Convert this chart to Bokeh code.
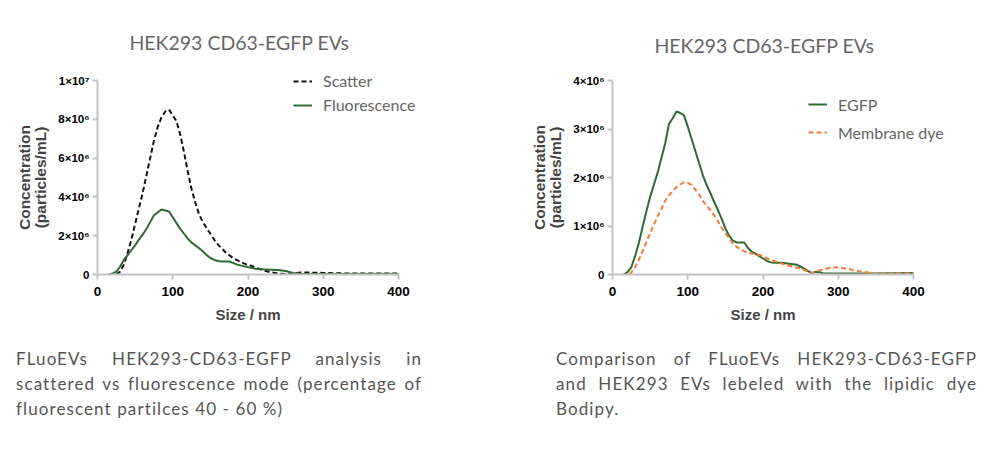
import math
from bokeh.plotting import figure
from bokeh.models import Range1d, FixedTicker, Legend, LegendItem, Label, Div, Spacer
from bokeh.layouts import column, row
from bokeh.embed import file_html
from bokeh.resources import INLINE

# ---------------- data (concentration in units of 1e6 particles/mL) ----------------
scatter_size = [25, 30, 35, 40, 45, 50, 55, 60, 65, 70, 75, 80, 85, 90, 95, 100, 105, 110, 115,
                120, 125, 130, 135, 140, 145, 150, 155, 160, 170, 180, 190, 200, 205, 210, 220,
                230, 240, 250, 260, 270, 280, 300, 320, 350, 380, 400]
scatter_conc = [0.0, 0.15, 0.5, 1.1, 1.8, 2.6, 3.4, 4.2, 5.1, 6.0, 6.9, 7.6, 8.1, 8.4, 8.5, 8.2,
                7.9, 7.2, 6.3, 5.3, 4.4, 3.7, 3.1, 2.7, 2.4, 2.1, 1.8, 1.55, 1.15, 0.85, 0.65,
                0.48, 0.45, 0.35, 0.22, 0.12, 0.05, 0.02, 0.06, 0.1, 0.1, 0.08, 0.06, 0.05,
                0.05, 0.05]

fluo_size = [15, 20, 25, 30, 35, 40, 45, 50, 55, 60, 65, 70, 75, 80, 85, 90, 95, 100, 105, 110,
             115, 120, 125, 130, 135, 140, 145, 150, 155, 160, 165, 170, 175, 180, 185, 190,
             195, 200, 210, 220, 230, 240, 250, 260, 270, 280, 300, 350, 400]
fluo_conc = [0.0, 0.05, 0.15, 0.4, 0.75, 1.0, 1.25, 1.5, 1.8, 2.05, 2.35, 2.7, 3.05, 3.2, 3.35,
             3.3, 3.25, 2.95, 2.65, 2.35, 2.1, 1.85, 1.65, 1.5, 1.35, 1.2, 1.0, 0.85, 0.75, 0.7,
             0.67, 0.67, 0.67, 0.6, 0.52, 0.47, 0.42, 0.38, 0.3, 0.27, 0.25, 0.23, 0.18, 0.08,
             0.04, 0.02, 0.02, 0.02, 0.03]

egfp_size = [15, 20, 25, 30, 35, 40, 45, 50, 55, 60, 65, 70, 75, 80, 85, 90, 95, 100, 105, 110,
             115, 120, 125, 130, 135, 140, 145, 150, 155, 160, 165, 170, 175, 180, 185, 190,
             195, 200, 205, 210, 215, 220, 225, 230, 240, 245, 250, 255, 260, 265, 270, 275,
             280, 290, 300, 350, 400]
egfp_conc = [0.0, 0.05, 0.15, 0.38, 0.65, 0.98, 1.3, 1.6, 1.85, 2.1, 2.4, 2.7, 3.1, 3.22, 3.36,
             3.33, 3.28, 3.05, 2.8, 2.55, 2.3, 2.05, 1.85, 1.68, 1.5, 1.33, 1.15, 0.95, 0.8,
             0.7, 0.66, 0.66, 0.66, 0.55, 0.47, 0.43, 0.38, 0.33, 0.28, 0.25, 0.24, 0.24, 0.24,
             0.23, 0.21, 0.2, 0.16, 0.12, 0.07, 0.03, 0.05, 0.05, 0.02, 0.02, 0.02, 0.02, 0.03]

dye_size = [23, 30, 35, 40, 45, 50, 55, 60, 65, 70, 75, 80, 85, 90, 95, 100, 105, 110, 115, 120,
            125, 130, 135, 140, 145, 150, 155, 160, 165, 170, 175, 180, 190, 200, 210, 220, 230,
            240, 250, 260, 265, 270, 280, 290, 300, 310, 320, 330, 340, 350, 360, 370, 400]
dye_conc = [0.0, 0.15, 0.3, 0.48, 0.67, 0.85, 1.03, 1.2, 1.35, 1.52, 1.63, 1.72, 1.8, 1.86, 1.9,
            1.89, 1.85, 1.75, 1.65, 1.52, 1.42, 1.33, 1.22, 1.1, 0.97, 0.85, 0.75, 0.63, 0.57,
            0.52, 0.48, 0.45, 0.42, 0.38, 0.3, 0.25, 0.2, 0.16, 0.12, 0.06, 0.03, 0.07, 0.1,
            0.14, 0.15, 0.12, 0.09, 0.06, 0.04, 0.02, 0.01, 0.02, 0.03]

x_ticks = [0, 100, 200, 300, 400]
left_y_ticks = [0, 2, 4, 6, 8, 10]
left_y_labels = ["0", "2×10⁶", "4×10⁶", "6×10⁶", "8×10⁶", "1×10⁷"]
right_y_ticks = [0, 1, 2, 3, 4]
right_y_labels = ["0", "1×10⁶", "2×10⁶", "3×10⁶", "4×10⁶"]

title_text = "HEK293 CD63-EGFP EVs"
y_label_1 = "Concentration"
y_label_2 = "(particles/mL)"
x_label = "Size / nm"

GREEN = "#2e6a33"
ORANGE = "#f47a3a"
BLACK = "#111111"
GRAY_TXT = "#666666"
AXIS_GRAY = "#c4c4c4"
SANS = "Liberation Sans"
GEO = "Lato"

FIG_H = 322          # figure height in px (page y 8 .. 330)
FIG_TOP = 8          # page y of the figure top


def make_fig(width, fig_left, ax0_px, ax400_px, y0_px, ytop_px, ymax, yticks, ylabels,
             title_xy):
    """The frame fills the whole figure; axes are pinned at data 0 with fixed_location."""
    ppx = (ax400_px - ax0_px) / 400.0
    ppy = (y0_px - ytop_px) / ymax
    x_start = -(ax0_px - fig_left) / ppx
    x_end = x_start + width / ppx
    y_start = -(FIG_TOP + FIG_H - y0_px) / ppy
    y_end = (y0_px - FIG_TOP) / ppy
    p = figure(width=width, height=FIG_H, x_range=Range1d(x_start, x_end),
               y_range=Range1d(y_start, y_end), output_backend="svg", toolbar_location=None,
               min_border=0)
    p.title.visible = False
    p.outline_line_color = None
    p.grid.visible = False
    p.background_fill_color = "white"
    p.border_fill_color = "white"
    for ax in (p.xaxis[0], p.yaxis[0]):
        ax.fixed_location = 0
        ax.axis_line_color = AXIS_GRAY
        ax.axis_line_width = 2
        ax.major_tick_line_color = AXIS_GRAY
        ax.major_tick_line_width = 2
        ax.major_tick_in = 0
        ax.major_tick_out = 5
        ax.minor_tick_line_color = None
        ax.major_label_text_font = SANS
        ax.major_label_text_font_style = "bold"
        ax.major_label_text_color = "black"
    p.xaxis.bounds = (0, 400)
    p.yaxis.bounds = (0, ymax)
    p.xaxis.ticker = FixedTicker(ticks=x_ticks)
    p.xaxis.major_label_text_font_size = "13.5px"
    p.xaxis.major_label_standoff = 7
    p.yaxis.ticker = FixedTicker(ticks=yticks)
    p.yaxis.major_label_overrides = {t: l for t, l in zip(yticks, ylabels)}
    p.yaxis.major_label_text_font_size = "11.5px"
    p.yaxis.major_label_standoff = 3

    def sx(page_x):
        return page_x - fig_left

    def sy(page_y):
        return FIG_TOP + FIG_H - page_y

    mid_x = (ax0_px + ax400_px) / 2.0
    mid_y = (y0_px + ytop_px) / 2.0
    p.add_layout(Label(x=sx(title_xy[0]), y=sy(title_xy[1]), x_units="screen",
                       y_units="screen", text=title_text, text_font=GEO,
                       text_font_size="19.5px", text_color=GRAY_TXT, text_align="center",
                       text_baseline="middle"))
    p.add_layout(Label(x=sx(ax0_px - 73), y=sy(mid_y), x_units="screen", y_units="screen",
                       text=y_label_1, angle=math.pi / 2, text_font=SANS,
                       text_font_style="bold", text_font_size="15.5px", text_align="center",
                       text_baseline="middle"))
    p.add_layout(Label(x=sx(ax0_px - 57), y=sy(mid_y), x_units="screen", y_units="screen",
                       text=y_label_2, angle=math.pi / 2, text_font=SANS,
                       text_font_style="bold", text_font_size="15.5px", text_align="center",
                       text_baseline="middle"))
    p.add_layout(Label(x=sx(mid_x), y=sy(314), x_units="screen", y_units="screen",
                       text=x_label, text_font=SANS, text_font_style="bold",
                       text_font_size="15px", text_align="center", text_baseline="middle"))
    return p, sx, sy


def add_legend(p, sx, sy, items, glyph_left_page, bottom_page, spacing):
    lg = Legend(items=items, location=(sx(glyph_left_page), sy(bottom_page)))
    lg.border_line_color = None
    lg.background_fill_alpha = 0
    lg.padding = 0
    lg.margin = 0
    lg.spacing = spacing
    lg.glyph_width = 19
    lg.glyph_height = 20
    lg.label_height = 20
    lg.label_standoff = 11
    lg.label_text_font = GEO
    lg.label_text_font_size = "16px"
    lg.label_text_color = GRAY_TXT
    p.add_layout(lg)


# ---------------- left chart (page x 8 .. 508) ----------------
p1, sx1, sy1 = make_fig(500, 8, 97, 398, 274, 80, 10, left_y_ticks, left_y_labels, (239, 42))
r_sc = p1.line(scatter_size, scatter_conc, line_color=BLACK, line_width=2, line_dash="5 3")
r_fl = p1.line(fluo_size, fluo_conc, line_color=GREEN, line_width=2)
add_legend(p1, sx1, sy1, [LegendItem(label="Scatter", renderers=[r_sc]),
                          LegendItem(label="Fluorescence", renderers=[r_fl])],
           293, 114.7, 4)

# ---------------- right chart (page x 508 .. 991) ----------------
p2, sx2, sy2 = make_fig(483, 508, 612, 913, 274, 80, 4, right_y_ticks, right_y_labels,
                        (764, 45))
r_eg = p2.line(egfp_size, egfp_conc, line_color=GREEN, line_width=2)
r_dy = p2.line(dye_size, dye_conc, line_color=ORANGE, line_width=2, line_dash="5 3")
add_legend(p2, sx2, sy2, [LegendItem(label="EGFP", renderers=[r_eg]),
                          LegendItem(label="Membrane dye", renderers=[r_dy])],
           808, 142, 8)

# ---------------- captions ----------------
left_lines = ["FLuoEVs HEK293-CD63-EGFP analysis in",
              "scattered vs fluorescence mode (percentage of",
              "fluorescent partilces 40 - 60 %)"]
right_lines = ["Comparison of FLuoEVs HEK293-CD63-EGFP",
               "and HEK293 EVs lebeled with the lipidic dye",
               "Bodipy."]


def caption_html(lines, width):
    base = (f"width: {width}px; font-family: Lato, sans-serif; font-size: 17px; "
            "color: #555555; line-height: 25px; margin: 0; letter-spacing: 1.1px;")
    parts = []
    for i, ln in enumerate(lines):
        if i < len(lines) - 1:
            st = base + " text-align: justify; text-align-last: justify;"
        else:
            st = base + " text-align: left;"
        parts.append(f'<div style="{st}">{ln}</div>')
    return (f'<div style="padding-top: 16px; width: {width}px;">' + "".join(parts)
            + "</div>")


d1 = Div(text=caption_html(left_lines, 406), width=406, height=110, margin=(0, 0, 0, 0),
         styles={"width": "406px"})
d2 = Div(text=caption_html(right_lines, 421), width=421, height=110, margin=(0, 0, 0, 0),
         styles={"width": "421px"})

layout = column(Spacer(width=10, height=8),
                row(Spacer(width=8, height=10), p1, p2),
                row(Spacer(width=16, height=10), d1, Spacer(width=134, height=10), d2))

open("out.html", "w").write(file_html(layout, INLINE))
